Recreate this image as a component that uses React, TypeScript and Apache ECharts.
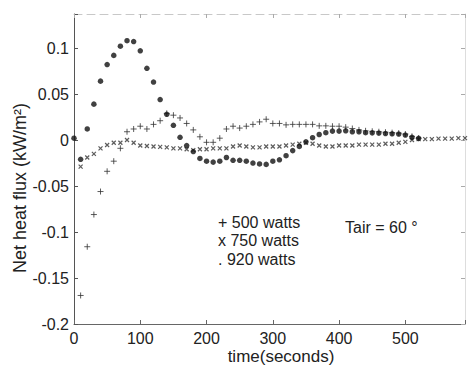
import React, { useEffect, useRef } from "react";
import * as echarts from "echarts";

// 920 watts (dots)
const t920 = [0,10,20,30,40,50,60,70,80,90,100,110,120,130,140,150,160,170,180,190,200,210,220,230,240,250,260,270,280,290,300,310,320,330,340,350,360,370,380,390,400,410,420,430,440,450,460,470,480,490,500,510,520];
const v920 = [0.002,-0.021,0.012,0.039,0.064,0.082,0.092,0.102,0.108,0.107,0.097,0.078,0.063,0.044,0.028,0.016,0.003,-0.006,-0.0125,-0.020,-0.023,-0.024,-0.023,-0.019,-0.022,-0.022,-0.023,-0.025,-0.026,-0.0265,-0.023,-0.0215,-0.017,-0.0115,-0.007,-0.002,0.0025,0.006,0.008,0.0097,0.0097,0.010,0.009,0.009,0.008,0.0078,0.0075,0.007,0.0068,0.0065,0.0054,0.003,0.0018];

// 500 watts (+)
const t500 = [10,20,30,40,50,60,70,80,90,100,110,120,130,140,150,160,170,180,190,200,210,220,230,240,250,260,270,280,290,300,310,320,330,340,350,360,370,380,390,400,410,420,430,440,450,460,470,480,490,500,510,520];
const v500 = [-0.169,-0.116,-0.081,-0.056,-0.034,-0.023,-0.009,0.009,0.012,0.015,0.012,0.017,0.021,0.029,0.027,0.024,0.018,0.011,0.0035,-0.0025,-0.0025,0.002,0.012,0.015,0.013,0.015,0.017,0.0197,0.0226,0.018,0.018,0.0165,0.017,0.017,0.017,0.017,0.0154,0.0154,0.015,0.015,0.014,0.0125,0.011,0.010,0.0095,0.009,0.0085,0.008,0.0075,0.0065,0.004,0.002];

// 750 watts (x)
const t750 = [10,20,30,40,50,60,70,80,90,100,110,120,130,140,150,160,170,180,190,200,210,220,230,240,250,260,270,280,290,300,310,320,330,340,350,360,370,380,390,400,410,420,430,440,450,460,470,480,490,500,510,520,530,540,550,560,570,580,590];
const v750 = [-0.029,-0.019,-0.015,-0.009,-0.0054,-0.003,-0.003,0.000,-0.003,-0.006,-0.0065,-0.007,-0.0075,-0.008,-0.009,-0.009,-0.010,-0.011,-0.010,-0.010,-0.009,-0.009,-0.009,-0.007,-0.006,-0.007,-0.008,-0.008,-0.007,-0.007,-0.007,-0.006,-0.005,-0.004,-0.003,-0.004,-0.006,-0.007,-0.007,-0.006,-0.006,-0.006,-0.005,-0.005,-0.005,-0.005,-0.004,-0.004,-0.003,-0.002,0.000,0.001,0.001,0.001,0.0015,0.0015,0.0015,0.002,0.002];

const legendLines = ["+ 500 watts", "x 750 watts", ". 920 watts"];
const noteText = "Tair = 60 °";
const xTitle = "time(seconds)";
const yTitle = "Net heat flux (kW/m²)";

const zip = (t: number[], v: number[]) => t.map((x, i) => [x, v[i]]);

const FONT = "Liberation Sans, Arial, sans-serif";

export default function App() {
  const ref = useRef<HTMLDivElement>(null);
  useEffect(() => {
    if (!ref.current) return;
    const chart = echarts.init(ref.current, undefined, { renderer: "svg" });
    const yFmt = (v: number) => {
      const r = Math.round(v / 0.05) * 0.05;
      if (Math.abs(v - r) > 1e-9) return "";
      return String(+r.toFixed(2));
    };
    const xFmt = (v: number) => (v % 100 === 0 ? String(v) : "");
    chart.setOption({
      animation: false,
      backgroundColor: "#ffffff",
      grid: { left: 74, right: 2, top: 14, bottom: 41 },
      xAxis: [
        {
          type: "value", min: 0, max: 590, interval: 100,
          axisLine: { onZero: false, lineStyle: { color: "#666", width: 1 } },
          axisTick: { inside: true, length: 4, lineStyle: { color: "#666" } },
          axisLabel: { formatter: xFmt, color: "#222", fontSize: 16, fontFamily: FONT, margin: 6 },
          splitLine: { show: false },
        },
        {
          type: "value", min: 0, max: 590, interval: 100, position: "top",
          axisLine: { onZero: false, lineStyle: { color: "#c8c8c8", width: 1, type: [8, 5] } },
          axisTick: { inside: true, length: 4, lineStyle: { color: "#aaa" } },
          axisLabel: { show: false },
          splitLine: { show: false },
        },
      ],
      yAxis: [
        {
          type: "value", min: -0.2, max: 0.137, interval: 0.05,
          axisLine: { onZero: false, lineStyle: { color: "#555", width: 1 } },
          axisTick: { inside: true, length: 4, lineStyle: { color: "#555" } },
          axisLabel: { formatter: yFmt, color: "#222", fontSize: 16, fontFamily: FONT, margin: 5 },
          splitLine: { show: false },
        },
        {
          type: "value", min: -0.2, max: 0.137, interval: 0.05, position: "right",
          axisLine: { onZero: false, lineStyle: { color: "#ddd", width: 1 } },
          axisTick: { inside: true, length: 4, lineStyle: { color: "#aaa" } },
          axisLabel: { show: false },
          splitLine: { show: false },
        },
      ],
      series: [
        {
          type: "scatter", name: "500 watts", data: zip(t500, v500),
          symbol: "path://M5,0L5,10M0,5L10,5", symbolSize: 6,
          itemStyle: { color: "transparent", borderColor: "#333", borderWidth: 1 },
        },
        {
          type: "scatter", name: "750 watts", data: zip(t750, v750),
          symbol: "path://M0,0L10,10M10,0L0,10", symbolSize: 4,
          itemStyle: { color: "transparent", borderColor: "#333", borderWidth: 1.2 },
        },
        {
          type: "scatter", name: "920 watts", data: zip(t920, v920),
          symbol: "circle", symbolSize: 5.5,
          itemStyle: { color: "#111" },
        },
      ],
      graphic: [
        ...legendLines.map((s, i) => ({
          type: "text", left: 218, top: 214 + i * 18.5,
          style: { text: s, fontSize: 16, fontFamily: FONT, fill: "#222" },
        })),
        {
          type: "text", left: 345, top: 219,
          style: { text: noteText, fontSize: 16, fontFamily: FONT, fill: "#222" },
        },
        {
          type: "text", x: 281, y: 356,
          style: { text: xTitle, fontSize: 17, fontFamily: FONT, fill: "#222", align: "center", verticalAlign: "middle" },
        },
        {
          type: "text", x: 20, y: 188, rotation: Math.PI / 2,
          style: { text: yTitle, fontSize: 18, fontFamily: FONT, fill: "#222", align: "center", verticalAlign: "middle" },
        },
      ],
    });
    return () => chart.dispose();
  }, []);
  return <div ref={ref} style={{ position: "fixed", left: 0, top: 0, width: 468, height: 365 }} />;
}
